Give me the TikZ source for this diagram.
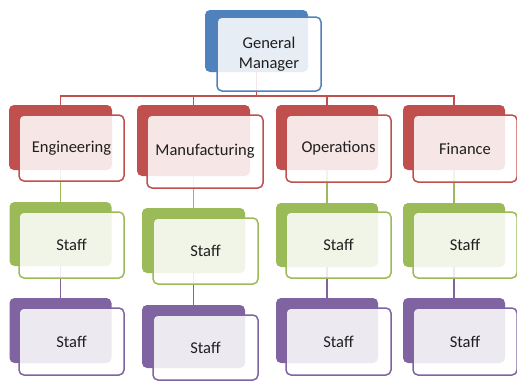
\documentclass[tikz,border=0pt]{standalone}
\usepackage{fontspec}
\setmainfont{Carlito}
\definecolor{cred}{HTML}{C0504D}
\definecolor{cgreen}{HTML}{9BBB59}
\definecolor{cpurple}{HTML}{8064A2}
\definecolor{cblue}{HTML}{4F81BD}
\tikzset{
  backbox/.style={rectangle, rounded corners=5pt, fill=#1, draw=none, inner sep=0pt},
  frontbox/.style={rectangle, rounded corners=5pt, draw=#1, line width=1.5pt, fill=white, fill opacity=0.86, text opacity=1, inner sep=0pt, text=black!88, font=\fontsize{16.5}{20}\selectfont, align=center},
  conn/.style={draw=#1, line width=1.4pt},
}
\begin{document}
\begin{tikzpicture}[x=1pt,y=-1pt]
\useasboundingbox (0,0) rectangle (517,381);
% back boxes
\node[backbox=cblue, minimum width=103pt, minimum height=62pt] (gmb) at (256.5,41) {};
\node[backbox=cred, minimum width=103pt, minimum height=65pt] (r1b) at (60.5,137.5) {};
\node[backbox=cred, minimum width=113pt, minimum height=71pt] (r2b) at (193.5,140.5) {};
\node[backbox=cred, minimum width=102pt, minimum height=65pt] (r3b) at (327,137.5) {};
\node[backbox=cred, minimum width=102pt, minimum height=65pt] (r4b) at (454,137.5) {};
\node[backbox=cgreen, minimum width=102pt, minimum height=64pt] (g1b) at (60.5,234) {};
\node[backbox=cgreen, minimum width=103pt, minimum height=65pt] (g2b) at (193.5,240.5) {};
\node[backbox=cgreen, minimum width=102pt, minimum height=64pt] (g3b) at (327,235) {};
\node[backbox=cgreen, minimum width=102pt, minimum height=64pt] (g4b) at (454,235) {};
\node[backbox=cpurple, minimum width=102pt, minimum height=65pt] (p1b) at (60.5,330.5) {};
\node[backbox=cpurple, minimum width=103pt, minimum height=63pt] (p2b) at (193.5,336.5) {};
\node[backbox=cpurple, minimum width=102pt, minimum height=65pt] (p3b) at (327,330.5) {};
\node[backbox=cpurple, minimum width=102pt, minimum height=65pt] (p4b) at (454,330.5) {};
% connectors
\coordinate (bus) at (60.5,96);
\draw[conn=cred] (gmb.south) -- (gmb.south |- bus);
\draw[conn=cred] (r1b.north) -- (bus) -| (r4b.north);
\draw[conn=cred] (r2b.north) -- (r2b.north |- bus);
\draw[conn=cred] (r3b.north) -- (r3b.north |- bus);
\foreach \i in {1,2,3,4}{
  \draw[conn=cgreen] (r\i b.south) -- (g\i b.north);
  \draw[conn=cpurple] (g\i b.south) -- (p\i b.north);
}
% front boxes
\node[frontbox=cblue, minimum width=104pt, minimum height=74pt] (gm) at (269,54) {General\\Manager};
\node[frontbox=cred, minimum width=105pt, minimum height=66pt] (eng) at (71.5,148) {Engineering};
\node[frontbox=cred, minimum width=116pt, minimum height=73pt] (man) at (205,151.5) {Manufacturing};
\node[frontbox=cred, minimum width=105pt, minimum height=67pt] (ops) at (338.5,148.5) {Operations};
\node[frontbox=cred, minimum width=104pt, minimum height=67pt] (fin) at (465,148.5) {Finance};
\node[frontbox=cgreen, minimum width=105pt, minimum height=66pt] (g1) at (71.5,245) {Staff};
\node[frontbox=cgreen, minimum width=105pt, minimum height=66pt] (g2) at (205.5,251) {Staff};
\node[frontbox=cgreen, minimum width=105pt, minimum height=66pt] (g3) at (338.5,245) {Staff};
\node[frontbox=cgreen, minimum width=104pt, minimum height=66pt] (g4) at (465,245) {Staff};
\node[frontbox=cpurple, minimum width=105pt, minimum height=67pt] (p1) at (71.5,341.5) {Staff};
\node[frontbox=cpurple, minimum width=105pt, minimum height=65pt] (p2) at (205.5,347.5) {Staff};
\node[frontbox=cpurple, minimum width=105pt, minimum height=67pt] (p3) at (338.5,341.5) {Staff};
\node[frontbox=cpurple, minimum width=104pt, minimum height=67pt] (p4) at (465,341.5) {Staff};
\end{tikzpicture}
\end{document}
